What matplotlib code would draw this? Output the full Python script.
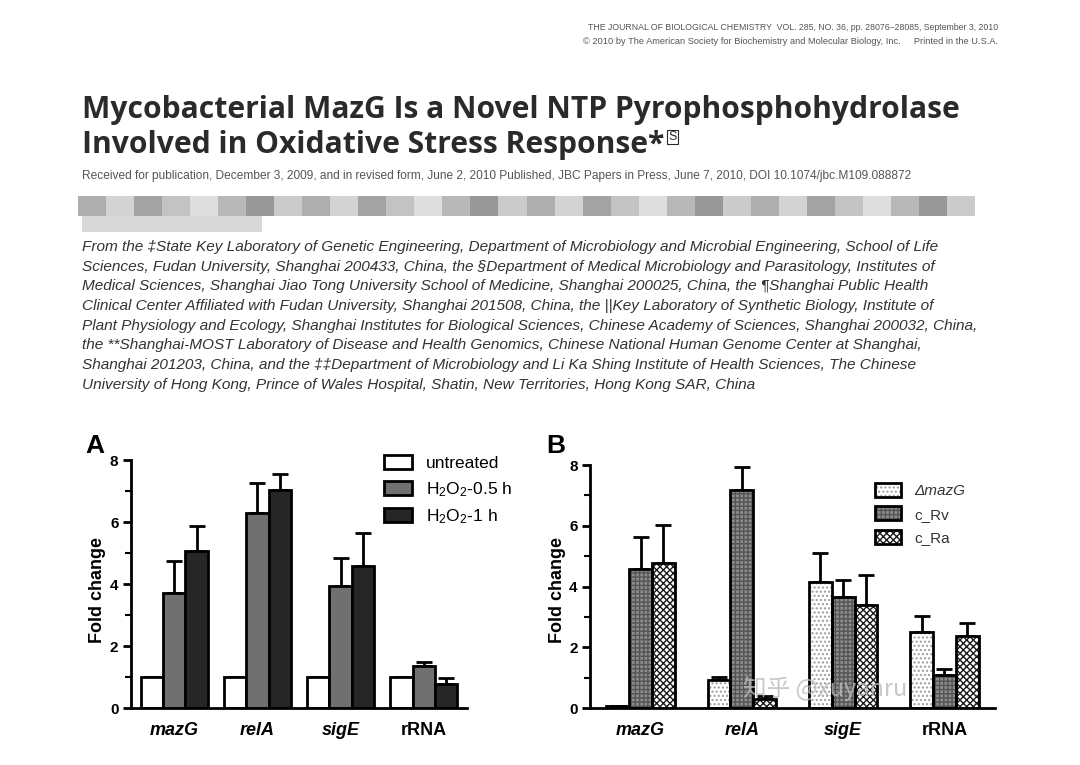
import matplotlib

matplotlib.use("Agg")
import matplotlib.pyplot as plt
import numpy as np
from matplotlib.patches import Patch, Rectangle

W, H = 1080, 765

genes = ["mazG", "relA", "sigE", "rRNA"]

# panel A: H2O2 treatment
a_labels = ["untreated", "H$_2$O$_2$-0.5 h", "H$_2$O$_2$-1 h"]
a_untreated = [1.0, 1.0, 1.0, 1.0]
a_untreated_err = [0.0, 0.0, 0.0, 0.0]
a_h05 = [3.71, 6.29, 3.92, 1.34]
a_h05_err = [1.02, 0.97, 0.92, 0.16]
a_h1 = [5.08, 7.04, 4.59, 0.78]
a_h1_err = [0.78, 0.51, 1.06, 0.19]

# panel B: strains
b_labels = ["ΔmazG", "c_Rv", "c_Ra"]
b_dmazg = [0.05, 0.91, 4.16, 2.51]
b_dmazg_err = [0.0, 0.11, 0.93, 0.52]
b_rv = [4.57, 7.18, 3.66, 1.08]
b_rv_err = [1.05, 0.77, 0.55, 0.22]
b_ra = [4.77, 0.31, 3.39, 2.37]
b_ra_err = [1.24, 0.08, 0.99, 0.42]

header = [
    "THE JOURNAL OF BIOLOGICAL CHEMISTRY  VOL. 285, NO. 36, pp. 28076–28085, September 3, 2010",
    "© 2010 by The American Society for Biochemistry and Molecular Biology, Inc.     Printed in the U.S.A.",
]
title = ["Mycobacterial MazG Is a Novel NTP Pyrophosphohydrolase",
         "Involved in Oxidative Stress Response*"]
received = ("Received for publication, December 3, 2009, and in revised form, June 2, 2010 Published, "
            "JBC Papers in Press, June 7, 2010, DOI 10.1074/jbc.M109.088872")
affil = [
    "From the ‡State Key Laboratory of Genetic Engineering, Department of Microbiology and Microbial Engineering, School of Life",
    "Sciences, Fudan University, Shanghai 200433, China, the §Department of Medical Microbiology and Parasitology, Institutes of",
    "Medical Sciences, Shanghai Jiao Tong University School of Medicine, Shanghai 200025, China, the ¶Shanghai Public Health",
    "Clinical Center Affiliated with Fudan University, Shanghai 201508, China, the ||Key Laboratory of Synthetic Biology, Institute of",
    "Plant Physiology and Ecology, Shanghai Institutes for Biological Sciences, Chinese Academy of Sciences, Shanghai 200032, China,",
    "the **Shanghai-MOST Laboratory of Disease and Health Genomics, Chinese National Human Genome Center at Shanghai,",
    "Shanghai 201203, China, and the ‡‡Department of Microbiology and Li Ka Shing Institute of Health Sciences, The Chinese",
    "University of Hong Kong, Prince of Wales Hospital, Shatin, New Territories, Hong Kong SAR, China",
]
blur_greys = ["#9a9a9a", "#c8c8c8", "#8c8c8c", "#b4b4b4", "#d6d6d6", "#a6a6a6", "#7e7e7e", "#bebebe"]

plt.rcParams["font.family"] = ["Liberation Sans", "DejaVu Sans"]
plt.rcParams["mathtext.fontset"] = "custom"
plt.rcParams["mathtext.rm"] = "Liberation Sans"
plt.rcParams["mathtext.it"] = "Liberation Sans:italic"
plt.rcParams["hatch.linewidth"] = 1.0

fig = plt.figure(figsize=(W / 100, H / 100), dpi=100)
renderer = fig.canvas.get_renderer()


def fx(px):
    return px / W


def fy(py):
    return 1 - py / H


def fit(t, width_px):
    w = t.get_window_extent(renderer).width
    t.set_fontsize(t.get_fontsize() * width_px / w)
    return t


# --- page text ---
for i, line in enumerate(header):
    t = fig.text(fx(998), fy(27 + 14 * i), line, ha="right", va="center",
                 color="#555555", fontsize=5)
    fit(t, 418 if i == 0 else 420)

tfont = ["Open Sans", "DejaVu Sans"]
t1 = fig.text(fx(82), fy(110), title[0], ha="left", va="center", family=tfont,
              weight="bold", color="#2a2a2a", fontsize=24)
fit(t1, 876)
t2 = fig.text(fx(82), fy(145), title[1], ha="left", va="center", family=tfont,
              weight="bold", color="#2a2a2a", fontsize=t1.get_fontsize())
x_end = t2.get_window_extent(renderer).x1
fig.text(fx(x_end + 4), fy(137), "S", ha="left", va="center",
         fontsize=9, color="#2a2a2a",
         bbox=dict(boxstyle="square,pad=0.1", fc="white", ec="#2a2a2a", lw=0.8))

t = fig.text(fx(82), fy(176), received, ha="left", va="center", color="#555555",
             fontsize=7)
fit(t, 828)

# blurred author line
xs = np.linspace(78, 975, 33)
for k in range(len(xs) - 1):
    fig.patches.append(Rectangle((fx(xs[k]), fy(216)), fx(xs[k + 1] - xs[k]), 20 / H,
                                 transform=fig.transFigure,
                                 fc=blur_greys[k % len(blur_greys)], ec="none", alpha=0.8))
fig.patches.append(Rectangle((fx(82), fy(232)), fx(180), 16 / H, transform=fig.transFigure,
                             fc="#d8d8d8", ec="none"))

# affiliation paragraph, sized so the longest line ends where it does on the page
t = fig.text(fx(82), fy(247 + 19.7 * 4), affil[4], ha="left", va="center", style="italic",
             color="#333333", fontsize=10)
fit(t, 903)
afs = t.get_fontsize()
for i, line in enumerate(affil):
    if i == 4:
        continue
    fig.text(fx(82), fy(247 + 19.7 * i), line, ha="left", va="center", style="italic",
             color="#333333", fontsize=afs)

# --- panel A ---
axA = fig.add_axes([fx(131), fy(708), fx(467 - 131), (708 - 460) / H])
x = np.arange(len(genes))
wA = 0.27
a_series = [(a_untreated, a_untreated_err, "white"),
            (a_h05, a_h05_err, "#707070"),
            (a_h1, a_h1_err, "#262626")]
handlesA = []
for j, (vals, errs, col) in enumerate(a_series):
    pos = x + (j - 1) * wA
    axA.errorbar(pos, vals, yerr=[np.zeros(len(errs)), errs], fmt="none", ecolor="black",
                 elinewidth=2, capsize=6, capthick=2, zorder=1)
    axA.bar(pos, vals, wA, color=col, edgecolor="black", linewidth=2, zorder=2)
    handlesA.append(Patch(fc=col, ec="black", lw=2))
axA.legend(handlesA, a_labels, loc="upper left", bbox_to_anchor=(fx(384), fy(455)),
           bbox_transform=fig.transFigure, frameon=False, fontsize=12.5,
           handlelength=1.6, handleheight=0.9, labelspacing=0.5, handletextpad=0.8,
           borderaxespad=0, borderpad=0)

# --- panel B ---
axB = fig.add_axes([fx(590), fy(708), fx(995 - 590), (708 - 465) / H])
wB = 0.225
b_series = [(b_dmazg, b_dmazg_err, "white", "#9c9c9c", "...."),
            (b_rv, b_rv_err, "#8c8c8c", "#555555", "++++"),
            (b_ra, b_ra_err, "white", "#1a1a1a", "xxxxx")]
handlesB = []
for j, (vals, errs, col, hcol, hatch) in enumerate(b_series):
    pos = x + (j - 1) * wB
    axB.errorbar(pos, vals, yerr=[np.zeros(len(errs)), errs], fmt="none", ecolor="black",
                 elinewidth=2, capsize=6, capthick=2, zorder=1)
    axB.bar(pos, vals, wB, color=col, edgecolor=hcol, hatch=hatch, linewidth=0, zorder=2)
    axB.bar(pos, vals, wB, fill=False, edgecolor="black", linewidth=2, zorder=3)
    handlesB.append((Patch(fc=col, ec=hcol, hatch=hatch, lw=0),
                     Patch(fill=False, ec="black", lw=2)))
legB = axB.legend(handlesB, b_labels, loc="upper left", bbox_to_anchor=(fx(875), fy(483)),
                  bbox_transform=fig.transFigure, frameon=False, fontsize=11,
                  handlelength=1.7, handleheight=1.0, labelspacing=0.55, handletextpad=0.9,
                  borderaxespad=0, borderpad=0)
legB.get_texts()[0].set_style("italic")
for tx in legB.get_texts():
    tx.set_color("#333333")

for ax, xl, lx, lab in [(axA, (-0.52, 3.52), 85, "A"), (axB, (-0.5, 3.5), 546, "B")]:
    ax.set_xlim(*xl)
    ax.set_ylim(0, 8)
    ax.set_yticks([0, 2, 4, 6, 8])
    ax.set_yticks([1, 3, 5, 7], minor=True)
    ax.set_xticks(x)
    ax.set_xticklabels(genes, fontsize=13, fontweight="bold")
    for tl, g in zip(ax.get_xticklabels(), genes):
        tl.set_style("normal" if g == "rRNA" else "italic")
    ax.tick_params(axis="x", length=0, pad=10)
    ax.tick_params(axis="y", which="major", length=6, width=2, labelsize=11, pad=3)
    ax.tick_params(axis="y", which="minor", length=4, width=1.5)
    for tl in ax.get_yticklabels():
        tl.set_fontweight("bold")
    for s in ["top", "right"]:
        ax.spines[s].set_visible(False)
    for s in ["left", "bottom"]:
        ax.spines[s].set_linewidth(2)
    ax.set_facecolor("none")
    fig.text(fx(lx), fy(446), lab, ha="left", va="center", fontsize=19, fontweight="bold")
    ax_left = ax.get_position().x0 * W
    fig.text(fx(ax_left - 33), fy(590), "Fold change", rotation=90, ha="center", va="center",
             fontsize=13, fontweight="bold")

fig.text(fx(825), fy(688), "知乎 @xuyanru", ha="center", va="center", fontsize=17,
         color="#bbbbbb", alpha=0.8, family=["Noto Sans CJK SC", "DejaVu Sans"])

fig.savefig("out.png", dpi=100, facecolor="white")
